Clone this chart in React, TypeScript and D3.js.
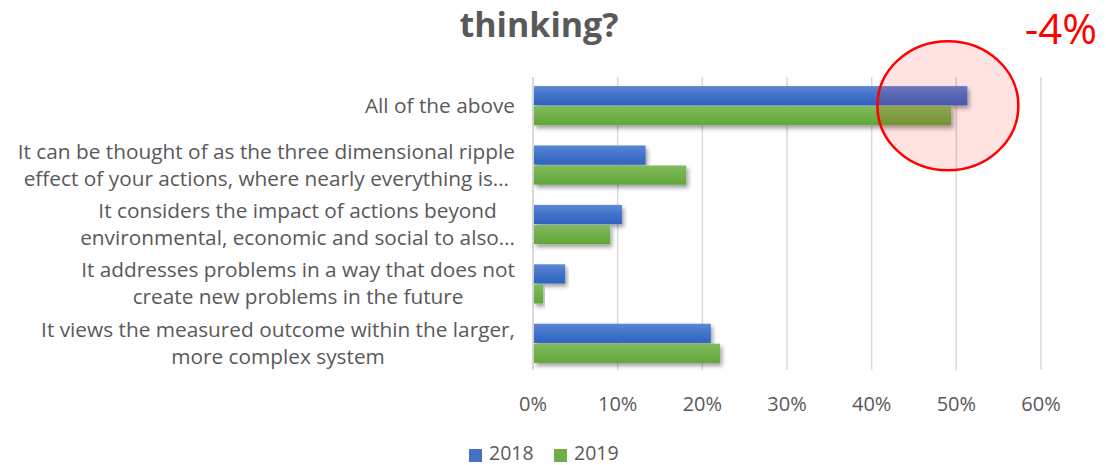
import React, { useMemo } from 'react';
import * as d3 from 'd3';

const categoryLines: string[][] = [
  ['All of the above'],
  ['It can be thought of as the three dimensional ripple', 'effect of your actions, where nearly everything is…'],
  ['It considers the impact of actions beyond', 'environmental, economic and social to also…'],
  ['It addresses problems in a way that does not', 'create new problems in the future'],
  ['It views the measured outcome within the larger,', 'more complex system'],
];
const categories = categoryLines.map((l) => l.join(' '));
const seriesNames = ['2018', '2019'];
const values2018 = [51.3, 13.3, 10.5, 3.8, 21.0];
const values2019 = [49.4, 18.1, 9.1, 1.2, 22.1];
const xTicks = [0, 10, 20, 30, 40, 50, 60];
const titleText = 'thinking?';
const annotationText = '-4%';

const W = 1106;
const H = 465;
const FONT = "'Open Sans', 'DejaVu Sans', sans-serif";
const TEXT_COLOR = '#595959';

function measure(text: string, font: string): number {
  if (typeof document === 'undefined') return text.length * 9;
  const c = document.createElement('canvas');
  const ctx = c.getContext('2d');
  if (!ctx) return text.length * 9;
  ctx.font = font;
  return ctx.measureText(text).width;
}

export default function App() {
  const x = d3.scaleLinear().domain([0, 60]).range([533, 1041]);
  const y = d3.scaleBand<string>().domain(categories).range([76, 373]).paddingInner(0.34).paddingOuter(0.17);
  const ys = d3.scaleBand<string>().domain(seriesNames).range([0, y.bandwidth()]).paddingInner(0.04);
  const seriesValues = [values2018, values2019];
  const fills = ['url(#gBlue)', 'url(#gGreen)'];
  const legendColors = ['#4472c4', '#70ad47'];

  const labelFontSize = 20.8;
  const labelFont = `${labelFontSize}px 'Open Sans'`;
  const labelRight = 515;
  const lineH = 27;

  const labelLayout = useMemo(
    () =>
      categoryLines.map((lines) => {
        const widths = lines.map((l) => measure(l, labelFont));
        const maxW = Math.max(...widths);
        return labelRight - maxW / 2;
      }),
    []
  );

  const gridTop = 77;
  const gridBottom = 370;

  return (
    <svg
      width={W}
      height={H}
      style={{ position: 'fixed', left: 0, top: 0, background: '#fff' }}
      fontFamily={FONT}
    >
      <defs>
        <linearGradient id="gBlue" x1="0" y1="0" x2="0" y2="1">
          <stop offset="0" stopColor="#5b87d6" />
          <stop offset="0.5" stopColor="#4172c9" />
          <stop offset="1" stopColor="#2e64c0" />
        </linearGradient>
        <linearGradient id="gGreen" x1="0" y1="0" x2="0" y2="1">
          <stop offset="0" stopColor="#80bb5e" />
          <stop offset="0.5" stopColor="#71b04a" />
          <stop offset="1" stopColor="#62a63a" />
        </linearGradient>
        <filter id="shadow" x="-5%" y="-30%" width="115%" height="190%">
          <feDropShadow dx="2" dy="3" stdDeviation="2.2" floodColor="#000" floodOpacity="0.38" />
        </filter>
      </defs>

      <text x={539} y={36.5} textAnchor="middle" fontSize={34} fontWeight={700} fill={TEXT_COLOR}>
        {titleText}
      </text>

      {xTicks.map((t) => (
        <line
          key={'g' + t}
          x1={x(t)}
          x2={x(t)}
          y1={gridTop}
          y2={gridBottom}
          stroke="#d9d9d9"
          strokeWidth={t === 0 ? 2 : 1.5}
        />
      ))}

      {categories.map((c, ci) => (
        <g key={c} transform={`translate(0,${y(c)})`}>
          {seriesNames.map((s, si) => (
            <rect
              key={s}
              x={x(0) + 1}
              y={ys(s)}
              width={x(seriesValues[si][ci]) - x(0) - 1}
              height={ys.bandwidth()}
              fill={fills[si]}
              filter="url(#shadow)"
            />
          ))}
        </g>
      ))}

      {categoryLines.map((lines, ci) => {
        const cy = (y(categories[ci]) as number) + y.bandwidth() / 2;
        const cx = labelLayout[ci];
        const startY = cy - ((lines.length - 1) * lineH) / 2;
        return lines.map((l, li) => (
          <text
            key={ci + '-' + li}
            x={cx}
            y={startY + li * lineH + 7}
            textAnchor="middle"
            fontSize={labelFontSize}
            fill={TEXT_COLOR}
          >
            {l}
          </text>
        ));
      })}

      {xTicks.map((t) => (
        <text key={'t' + t} x={x(t)} y={411} textAnchor="middle" fontSize={20} fill={TEXT_COLOR}>
          {t + '%'}
        </text>
      ))}

      <ellipse
        cx={x(49)}
        cy={(y(categories[0]) as number) + y.bandwidth() / 2}
        rx={70.5}
        ry={64.5}
        fill="#ff0000"
        fillOpacity={0.11}
        stroke="#ff0000"
        strokeWidth={2.5}
      />
      <text x={1097} y={44} textAnchor="end" fontSize={42} fill="#ff0000">
        {annotationText}
      </text>

      {seriesNames.map((s, i) => {
        const lx = 469 + i * 85;
        return (
          <g key={'l' + s}>
            <rect x={lx} y={449} width={13} height={13} fill={legendColors[i]} />
            <text x={lx + 20} y={459.5} fontSize={19.5} fill={TEXT_COLOR}>
              {s}
            </text>
          </g>
        );
      })}
    </svg>
  );
}
